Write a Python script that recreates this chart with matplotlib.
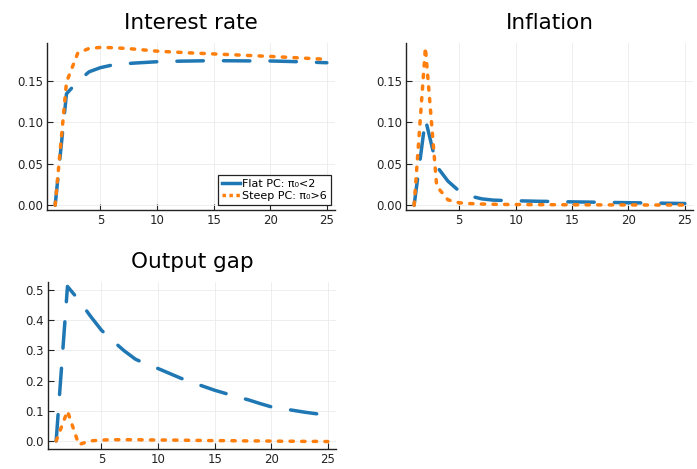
import matplotlib
matplotlib.use("Agg")
import matplotlib.pyplot as plt
from matplotlib.lines import Line2D
from matplotlib.ticker import FormatStrFormatter

t = list(range(1, 26))

rate_flat = [0.0, 0.134, 0.149, 0.1605, 0.1655, 0.1685, 0.170, 0.171, 0.1718, 0.1726,
             0.1730, 0.1733, 0.1735, 0.1737, 0.1738, 0.1738, 0.1737, 0.1736, 0.1736, 0.1735,
             0.1732, 0.1728, 0.1724, 0.1719, 0.1714]
rate_steep = [0.0, 0.148, 0.183, 0.1886, 0.1898, 0.1895, 0.1888, 0.1878, 0.1866, 0.1853,
              0.1846, 0.1839, 0.1832, 0.1826, 0.1820, 0.1814, 0.1808, 0.1802, 0.1796, 0.1790,
              0.1783, 0.1776, 0.1769, 0.1762, 0.1755]

infl_flat = [0.0, 0.1037, 0.047, 0.029, 0.017, 0.011, 0.0077, 0.0062, 0.0057, 0.0054,
             0.0051, 0.0048, 0.0046, 0.0043, 0.0041, 0.0039, 0.0037, 0.0035, 0.0033, 0.0031,
             0.0029, 0.0027, 0.0025, 0.0023, 0.0021]
infl_steep = [0.0, 0.190, 0.023, 0.0065, 0.003, 0.002, 0.0015, 0.0012, 0.001, 0.0009,
              0.0008, 0.0007, 0.0007, 0.0006, 0.0006, 0.0005, 0.0005, 0.0005, 0.0004, 0.0004,
              0.0004, 0.0003, 0.0003, 0.0003, 0.0003]

gap_flat = [0.0, 0.512, 0.467, 0.415, 0.367, 0.332, 0.299, 0.271, 0.254, 0.240,
            0.224, 0.208, 0.194, 0.181, 0.168, 0.157, 0.146, 0.136, 0.124, 0.113,
            0.107, 0.101, 0.095, 0.090, 0.085]
gap_steep = [0.0, 0.099, -0.012, 0.0, 0.003, 0.004, 0.004, 0.004, 0.0035, 0.003,
             0.003, 0.0025, 0.002, 0.0015, 0.001, 0.001, 0.0005, 0.0, 0.0, -0.0005,
             -0.001, -0.001, -0.0015, -0.0015, -0.002]

titles = ["Interest rate", "Inflation", "Output gap"]
labels = ["Flat PC: π₀<2", "Steep PC: π₀>6"]
xticks = [5, 10, 15, 20, 25]

blue = "#1f77b4"
orange = "#ff7f0e"
lw = 2.5
dash_flat = (7.6, 5.8)
dash_steep = (0.95, 2.4)

fig = plt.figure(figsize=(6.97, 4.69), dpi=100)
W, H = 697, 469
def pos(l, r, top, bot):
    return [l / W, 1 - bot / H, (r - l) / W, (bot - top) / H]

ax1 = fig.add_axes(pos(47, 335, 42.7, 210))
ax2 = fig.add_axes(pos(406, 693, 42.7, 210))
ax3 = fig.add_axes(pos(48, 336, 281.7, 449.3))

panels = [(ax1, rate_flat, rate_steep, "%.2f", [0, 0.05, 0.10, 0.15]),
          (ax2, infl_flat, infl_steep, "%.2f", [0, 0.05, 0.10, 0.15]),
          (ax3, gap_flat, gap_steep, "%.1f", [0, 0.1, 0.2, 0.3, 0.4, 0.5])]

for (ax, f, s, fmt, yt), title in zip(panels, titles):
    ax.plot(t, f, color=blue, lw=lw, dashes=dash_flat, dash_capstyle="round")
    ax.plot(t, s, color=orange, lw=lw, dashes=dash_steep, dash_capstyle="round")
    ax.margins(x=0.03, y=0.03)
    ax.set_xticks(xticks)
    ax.set_yticks(yt)
    ax.yaxis.set_major_formatter(FormatStrFormatter(fmt))
    ax.grid(True, color="#ebebeb", lw=0.6)
    ax.set_axisbelow(True)
    for sp in ["top", "right"]:
        ax.spines[sp].set_visible(False)
    for sp in ["left", "bottom"]:
        ax.spines[sp].set_color("#222222")
        ax.spines[sp].set_linewidth(1.0)
    ax.tick_params(direction="in", length=4, width=0.8, labelsize=8.5,
                   colors="#222222", pad=3)
    ax.set_title(title, fontsize=15.5, pad=10)

handles = [Line2D([0], [0], color=blue, lw=lw),
           Line2D([0], [0], color=orange, lw=lw, dashes=(1.0, 1.0))]
leg = ax1.legend(handles, labels, loc="lower right", bbox_to_anchor=(0.985, 0.03),
                 fontsize=8, frameon=True, fancybox=False, framealpha=1,
                 edgecolor="#222222", handlelength=1.6, handletextpad=0.2,
                 borderpad=0.35, labelspacing=0.2, borderaxespad=0)
leg.get_frame().set_linewidth(0.9)

fig.savefig("out.png", dpi=100)
